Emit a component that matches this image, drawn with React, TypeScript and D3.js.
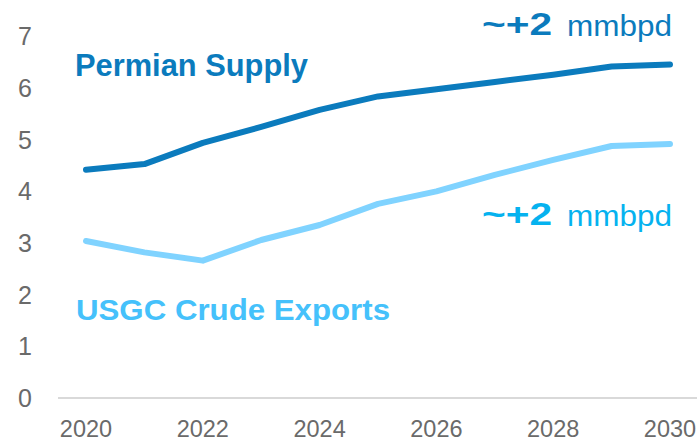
import React from "react";
import * as d3 from "d3";

const years = [2020, 2021, 2022, 2023, 2024, 2025, 2026, 2027, 2028, 2029, 2030];
const permianSupply = [4.42, 4.53, 4.94, 5.25, 5.58, 5.84, 5.98, 6.12, 6.26, 6.42, 6.46];
const usgcExports = [3.04, 2.82, 2.66, 3.06, 3.35, 3.76, 4.0, 4.32, 4.61, 4.88, 4.92];
const yTicks = [0, 1, 2, 3, 4, 5, 6, 7];
const xTicks = [2020, 2022, 2024, 2026, 2028, 2030];

const W = 697;
const H = 441;
const FONT = "'Liberation Sans', Arial, sans-serif";
const DARK = "#0b7bbd";
const LIGHT_LINE = "#80d3ff";
const LIGHT_TEXT = "#45c1fb";
const ANNOT2 = "#05b2ef";
const TICK = "#6a6a6a";

export default function App() {
  const x = d3.scaleLinear().domain([2020, 2030]).range([86, 670]);
  const y = d3.scaleLinear().domain([0, 7]).range([398, 36.5]);
  const line = d3
    .line<number>()
    .x((_, i) => x(years[i]))
    .y((d) => y(d));

  return (
    <svg
      width={W}
      height={H}
      style={{ position: "fixed", left: 0, top: 0, background: "#fff" }}
      fontFamily={FONT}
    >
      <line x1={58} x2={W} y1={y(0)} y2={y(0)} stroke="#d9d9d9" strokeWidth={2} />
      {yTicks.map((t) => (
        <text key={t} x={32} y={y(t) + 8.8} textAnchor="end" fontSize={25} fill={TICK}>
          {t}
        </text>
      ))}
      {xTicks.map((t) => (
        <text key={t} x={x(t)} y={437} textAnchor="middle" fontSize={23.5} fill={TICK}>
          {t}
        </text>
      ))}
      <path
        d={line(permianSupply) || ""}
        fill="none"
        stroke={DARK}
        strokeWidth={6}
        strokeLinecap="round"
        strokeLinejoin="round"
      />
      <path
        d={line(usgcExports) || ""}
        fill="none"
        stroke={LIGHT_LINE}
        strokeWidth={6}
        strokeLinecap="round"
        strokeLinejoin="round"
      />
      <text x={75} y={76} fontSize={31} fontWeight="bold" fill={DARK} textLength={233} lengthAdjust="spacingAndGlyphs">
        Permian Supply
      </text>
      <text x={76} y={320} fontSize={30} fontWeight="bold" fill={LIGHT_TEXT} textLength={314} lengthAdjust="spacingAndGlyphs">
        USGC Crude Exports
      </text>
      <text x={482} y={35} fontSize={32} fontWeight="bold" fill={DARK} textLength={70} lengthAdjust="spacingAndGlyphs">
        ~+2
      </text>
      <text x={567} y={36} fontSize={29} fill={DARK} textLength={105} lengthAdjust="spacingAndGlyphs">
        mmbpd
      </text>
      <text x={482} y={225} fontSize={32} fontWeight="bold" fill={ANNOT2} textLength={70} lengthAdjust="spacingAndGlyphs">
        ~+2
      </text>
      <text x={567} y={226} fontSize={29} fill={ANNOT2} textLength={105} lengthAdjust="spacingAndGlyphs">
        mmbpd
      </text>
    </svg>
  );
}
